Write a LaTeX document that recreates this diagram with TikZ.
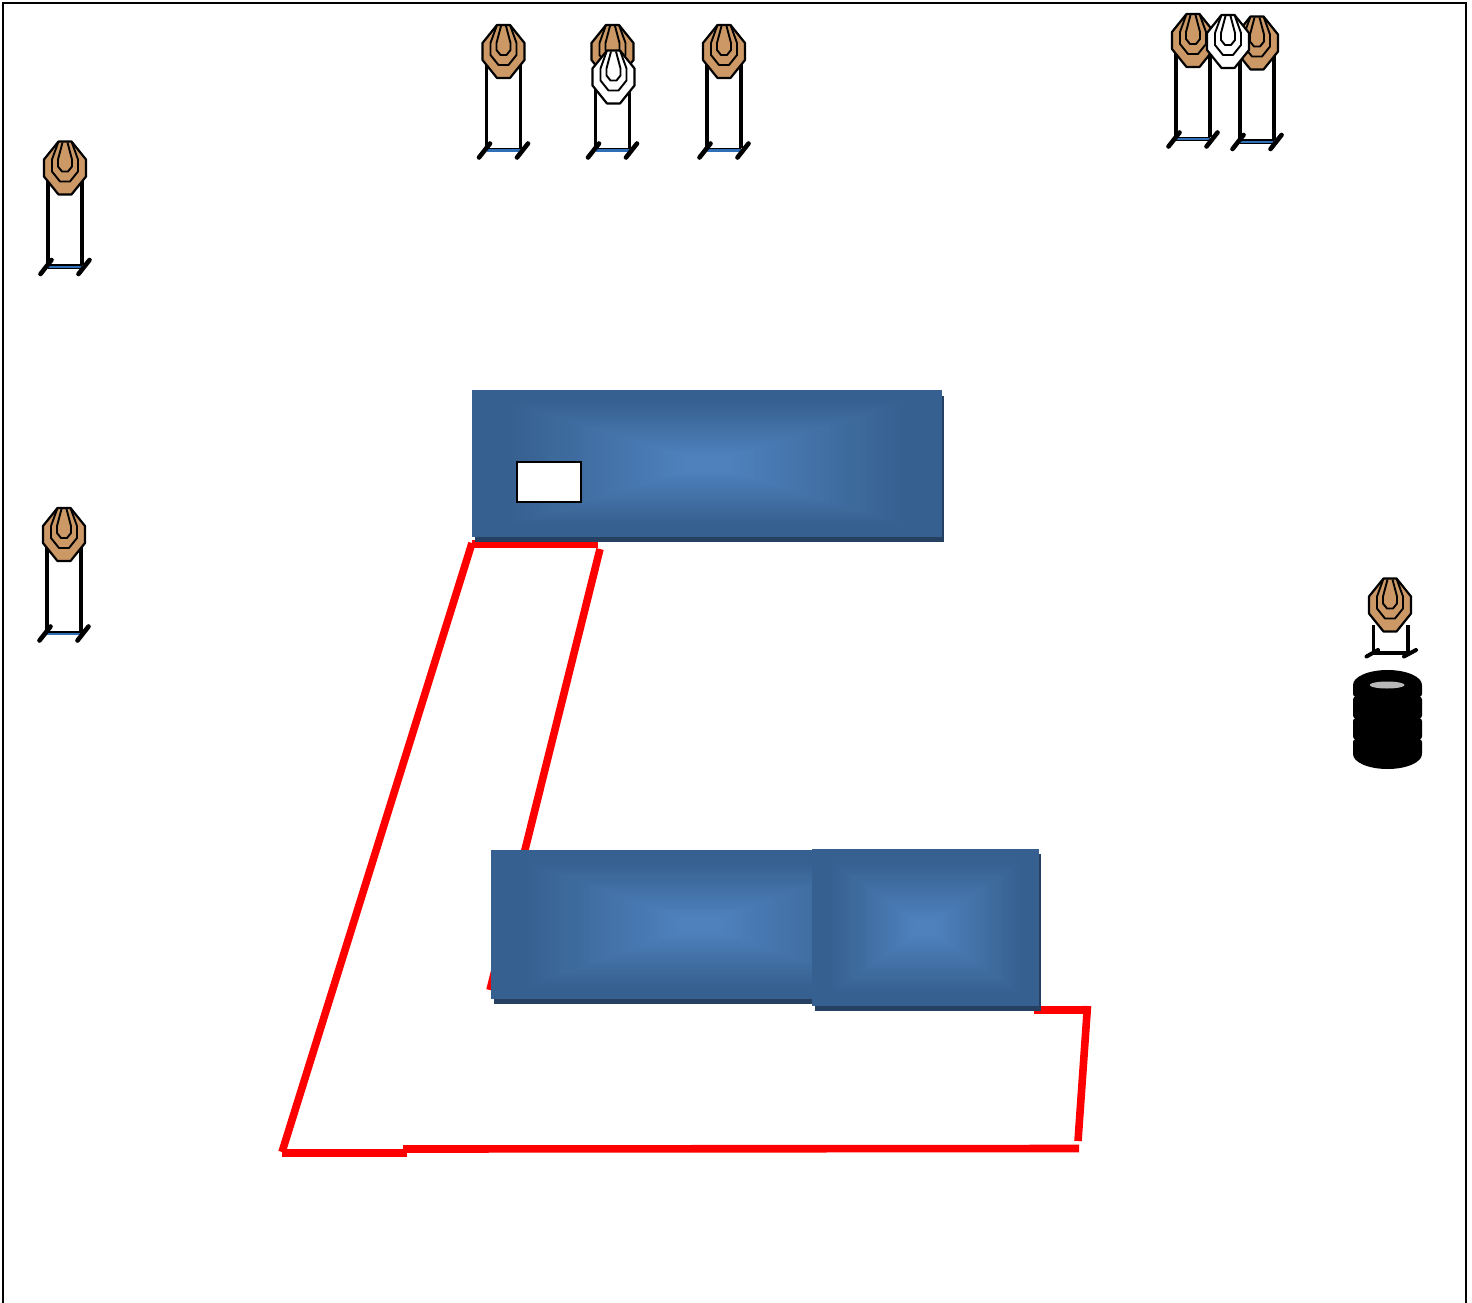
\documentclass[tikz,border=0pt]{standalone}
\definecolor{edgeblue}{HTML}{36608F}
\definecolor{midblue}{HTML}{4F81BD}
\definecolor{shadowblue}{HTML}{254061}
\definecolor{tan}{HTML}{CC9966}
\definecolor{barblue}{HTML}{2F6FB8}
\definecolor{tirecap}{HTML}{B8B8B8}
\tikzset{
  outline/.style={draw=black,line width=2.2pt,line join=round},
  innerline/.style={draw=black,line width=1.9pt,line join=round},
  pole/.style={draw=black,line width=3.8pt},
  foot/.style={draw=black,line width=4.6pt,line cap=round},
  redline/.style={draw=red,line width=7.6pt},
  pics/head/.style={code={
    \path[outline,fill=#1] (-6.5,-26.5)--(6.5,-26.5)--(21,-8.5)--(21,8.5)--(6.5,26.5)--(-6.5,26.5)--(-21,8.5)--(-21,-8.5)--cycle;
    \path[innerline] (-6.5,-26.5)--(-13,-8.5)--(-13,3.5)--(-5,13.5)--(5,13.5)--(13,3.5)--(13,-8.5)--(6.5,-26.5);
    \path[innerline] (-2.5,-25.5)--(-7,-8.5)--(-7,-1.5)--(-3,3.5)--(3,3.5)--(7,-1.5)--(7,-8.5)--(2.5,-25.5);
  }},
  pics/stand/.style={code={
    \path[pole] (-17,10)--(-17,97);
    \path[pole] (17,10)--(17,97);
    \path[draw=black,line width=4.6pt] (-17,98.5)--(17,98.5);
    \path[draw=barblue,line width=2pt] (-17,99)--(17,99);
    \path[foot] (-24.5,106)--(-13.5,92);
    \path[foot] (13.5,106)--(24.5,92);
  }},
  pics/target/.style={code={
    \pic {stand};
    \pic {head=tan};
  }}
}
\newcommand{\bluebox}[4]{%
  \foreach \k in {0,...,40}{%
    \pgfmathsetmacro{\ix}{\k/40*(#3-#1)/2}%
    \pgfmathsetmacro{\iy}{\k/40*(#4-#2)/2}%
    \pgfmathsetmacro{\mx}{max(0,min(100,(\k-6)*100/30))}%
    \fill[midblue!\mx!edgeblue] ({#1+\ix},{#2+\iy}) rectangle ({#3-\ix},{#4-\iy});
  }%
}
\begin{document}
\begin{tikzpicture}[x=1pt,y=-1pt]
\useasboundingbox (0,0) rectangle (1472,1303);
\fill[white] (0,0) rectangle (1472,1303);
% frame
\draw[black,line width=2.2pt] (3,1303)--(3,3)--(1466,3)--(1466,1303);
% red path
\coordinate (ra) at (472,543);
\coordinate (rb) at (282,1152);
\coordinate (rc) at (407,1153);
\coordinate (rd) at (403,1149);
\coordinate (re) at (1079,1148.5);
\coordinate (rf) at (1078,1141);
\coordinate (rg) at (1087.5,1006);
\coordinate (rh) at (1034,1010);
\coordinate (ri) at (598,544);
\coordinate (rj) at (600,549);
\coordinate (rk) at (490,990);
\path[redline] (ra)--(rb);
\path[redline] (rb|-rc)--(rc);
\path[redline] (rd)--(re);
\path[redline] (rf)--(rg);
\path[redline] (rh)--(rg|-rh);
\path[redline] (ra|-ri)--(ri);
\path[redline] (rj)--(rk);
% top block
\fill[shadowblue] (475,396) rectangle (944,542);
\bluebox{472}{390}{942}{537}
\draw[black,fill=white,line width=2.2pt] (517,462) rectangle (581,502);
% lower blocks
\fill[shadowblue] (494,860) rectangle (815,1004);
\bluebox{491}{850}{909}{999}
\fill[shadowblue] (815,854) rectangle (1041,1011);
\bluebox{812}{849}{1039}{1006}
% targets
\pic at (503.5,51.5) {target};
\pic at (612.5,51.5) {target};
\pic at (613.5,77) {head=white};
\pic at (724,51.5) {target};
\pic at (1193,40.5) {target};
\pic at (1257,43) {target};
\pic at (1228,41.5) {head=white};
\pic at (65,168) {target};
\pic at (64,534.5) {target};
% right target
\path[pole] (1373.5,625)--(1373.5,653);
\path[pole] (1408,625)--(1408,653);
\path[draw=black,line width=3.6pt] (1373,653)--(1408,653);
\path[draw=black,line width=4pt,line cap=round] (1366.5,656.5)--(1378,650);
\path[draw=black,line width=4pt,line cap=round] (1404,656.5)--(1416,650);
\pic at (1390,605) {head=tan};
% tyres
\fill[black] (1387.5,685) ellipse (34.5 and 15);
\fill[black] (1387.5,754) ellipse (34.5 and 15);
\fill[black] (1355,685) rectangle (1420,754);
\fill[black,rounded corners=3pt] (1353,683) rectangle (1422,697);
\fill[black,rounded corners=3pt] (1353,696.5) rectangle (1422,718.5);
\fill[black,rounded corners=3pt] (1353,718) rectangle (1422,739.5);
\fill[black,rounded corners=3pt] (1353,739) rectangle (1422,756);
\fill[tirecap] (1387,685) ellipse (17.5 and 3.5);
\end{tikzpicture}
\end{document}
